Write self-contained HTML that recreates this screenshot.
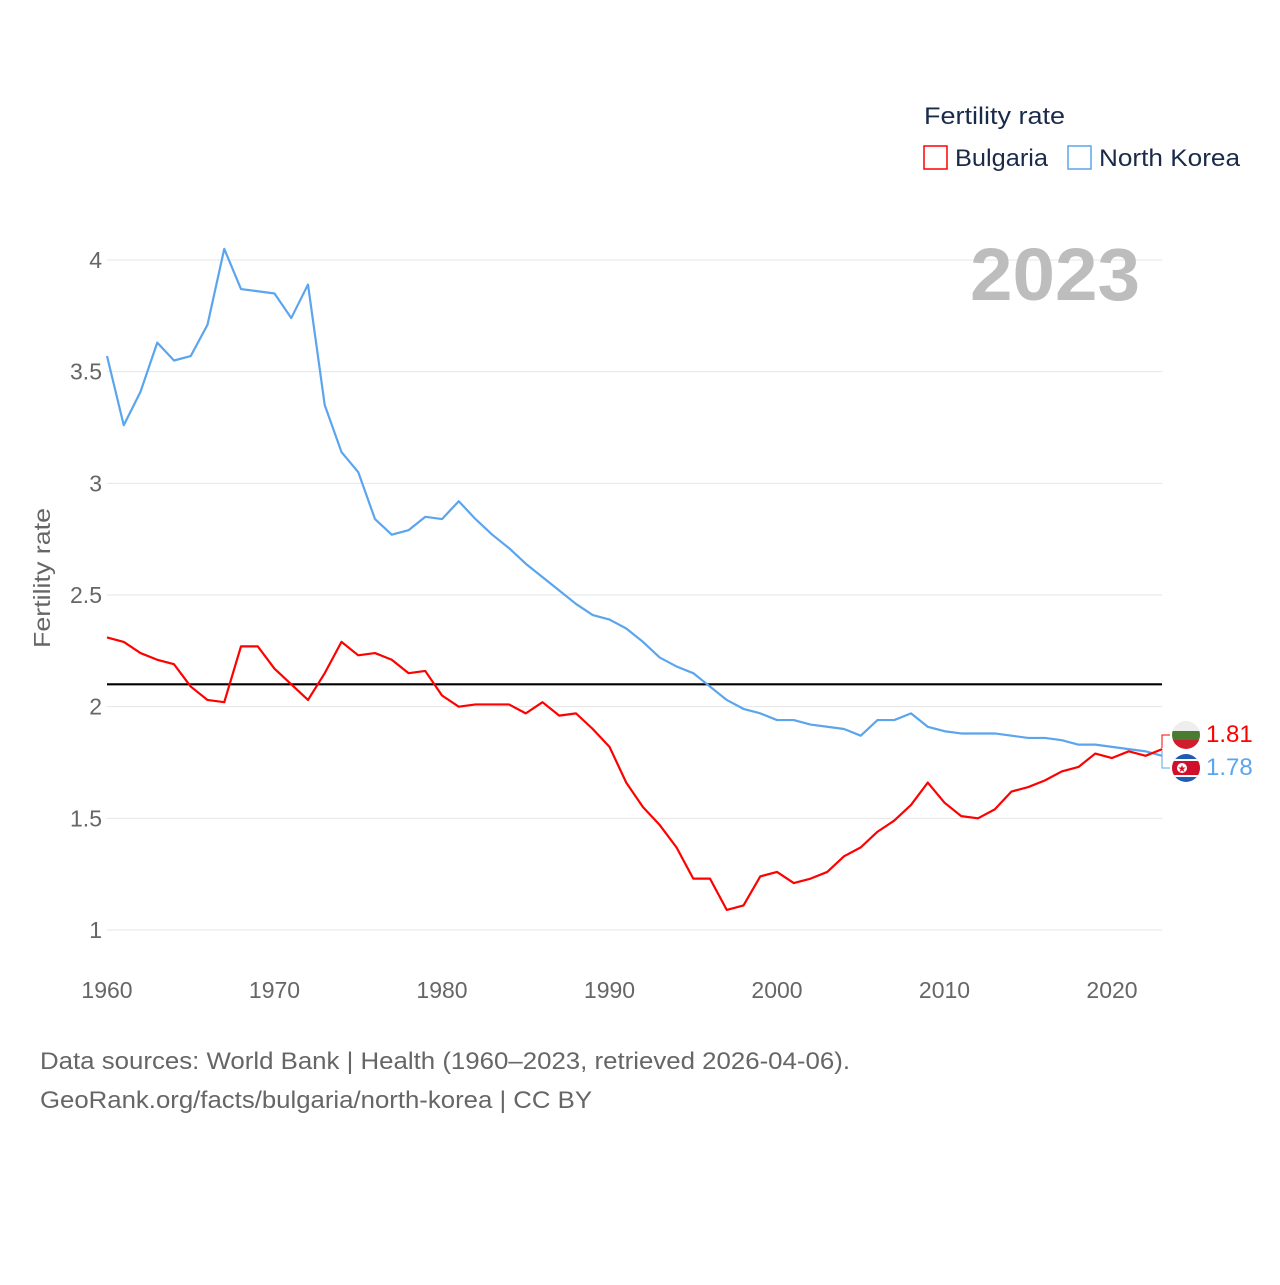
<!DOCTYPE html>
<html><head><meta charset="utf-8"><style>
body{margin:0;background:#fff;font-family:"Liberation Sans",sans-serif}
svg text{font-family:"Liberation Sans",sans-serif}
</style></head><body>
<svg id="chart" width="1280" height="1280" xmlns="http://www.w3.org/2000/svg">
<rect width="1280" height="1280" fill="#fff"/>
<g id="grid"></g>
<g id="lines"></g>
<text x="1140" y="300" text-anchor="end" font-size="74" font-weight="bold" fill="#bdbdbd" textLength="170" lengthAdjust="spacingAndGlyphs">2023</text>
<text transform="translate(50,578) rotate(-90)" text-anchor="middle" font-size="23" fill="#666" textLength="140" lengthAdjust="spacingAndGlyphs">Fertility rate</text>
<g>
<text x="924" y="124" font-size="24" fill="#1a2b4a" textLength="141" lengthAdjust="spacingAndGlyphs">Fertility rate</text>
<rect x="924" y="146" width="23" height="23" fill="none" stroke="#f00" stroke-width="1.5"/>
<text x="955" y="166" font-size="24" fill="#1a2b4a" textLength="93" lengthAdjust="spacingAndGlyphs">Bulgaria</text>
<rect x="1068" y="146" width="23" height="23" fill="none" stroke="#5aa5ee" stroke-width="1.5"/>
<text x="1099" y="166" font-size="24" fill="#1a2b4a" textLength="141" lengthAdjust="spacingAndGlyphs">North Korea</text>
</g>
<g>
<polyline points="1162,748 1162,735 1170,735" fill="none" stroke="#f00" stroke-width="1"/>
<polyline points="1162,751 1162,768 1170,768" fill="none" stroke="#5aa5ee" stroke-width="1"/>
<clipPath id="c1"><circle cx="1186" cy="735" r="14"/></clipPath>
<g clip-path="url(#c1)"><rect x="1172" y="721" width="28" height="10" fill="#eee"/><rect x="1172" y="731" width="28" height="9" fill="#4b7a31"/><rect x="1172" y="740" width="28" height="10" fill="#d01c2c"/></g>
<clipPath id="c2"><circle cx="1186" cy="768" r="14"/></clipPath>
<g clip-path="url(#c2)"><rect x="1172" y="754" width="28" height="28" fill="#1f5bb0"/><rect x="1172" y="759" width="28" height="18" fill="#fff"/><rect x="1172" y="761" width="28" height="14" fill="#d0102a"/><circle cx="1182" cy="768" r="5" fill="#fff"/><text x="1182" y="772" font-size="10" text-anchor="middle" fill="#d0102a">★</text></g>
<text x="1206" y="742" font-size="24" fill="#f00">1.81</text>
<text x="1206" y="775" font-size="24" fill="#5aa5ee">1.78</text>
</g>
<text x="40" y="1069" font-size="24" fill="#666" textLength="810" lengthAdjust="spacingAndGlyphs">Data sources: World Bank | Health (1960–2023, retrieved 2026-04-06).</text>
<text x="40" y="1108" font-size="24" fill="#666" textLength="552" lengthAdjust="spacingAndGlyphs">GeoRank.org/facts/bulgaria/north-korea | CC BY</text>
</svg>
<script>
const years=[];for(let y=1960;y<=2023;y++)years.push(y);
const bulgaria=[2.31,2.29,2.24,2.21,2.19,2.09,2.03,2.02,2.27,2.27,2.17,2.10,2.03,2.15,2.29,2.23,2.24,2.21,2.15,2.16,2.05,2.00,2.01,2.01,2.01,1.97,2.02,1.96,1.97,1.90,1.82,1.66,1.55,1.47,1.37,1.23,1.23,1.09,1.11,1.24,1.26,1.21,1.23,1.26,1.33,1.37,1.44,1.49,1.56,1.66,1.57,1.51,1.50,1.54,1.62,1.64,1.67,1.71,1.73,1.79,1.77,1.80,1.78,1.81];
const northKorea=[3.57,3.26,3.41,3.63,3.55,3.57,3.71,4.05,3.87,3.86,3.85,3.74,3.89,3.35,3.14,3.05,2.84,2.77,2.79,2.85,2.84,2.92,2.84,2.77,2.71,2.64,2.58,2.52,2.46,2.41,2.39,2.35,2.29,2.22,2.18,2.15,2.09,2.03,1.99,1.97,1.94,1.94,1.92,1.91,1.90,1.87,1.94,1.94,1.97,1.91,1.89,1.88,1.88,1.88,1.87,1.86,1.86,1.85,1.83,1.83,1.82,1.81,1.80,1.78];
const yTicks=[1,1.5,2,2.5,3,3.5,4];
const xTicks=[1960,1970,1980,1990,2000,2010,2020];
const replacement=2.1;
const X=y=>107+(y-1960)*(1112-107)/60;
const Y=v=>930-(v-1)*(930-260)/3;
const NS="http://www.w3.org/2000/svg";
const grid=document.getElementById('grid'),lines=document.getElementById('lines');
function mk(tag,attrs,parent){const e=document.createElementNS(NS,tag);for(const k in attrs)e.setAttribute(k,attrs[k]);parent.appendChild(e);return e;}
yTicks.forEach(t=>{
 const l=mk('line',{x1:107,x2:1162,y1:Y(t),y2:Y(t),stroke:'#e6e6e6','stroke-width':1},grid);
 
 
 const tx=mk('text',{x:102,y:Y(t)+8,'text-anchor':'end','font-size':23,fill:'#666'},grid);
 tx.textContent=String(t);
 
 
});
xTicks.forEach(t=>{
 const tx=mk('text',{x:X(t),y:998,'text-anchor':'middle','font-size':23,fill:'#666'},grid);
 tx.textContent=String(t);
 
 
});
const rl=mk('line',{x1:107,x2:1162,y1:Y(replacement),y2:Y(replacement),stroke:'#000','stroke-width':2.2},lines);


function series(vals,color,name){
 const p=mk('polyline',{points:vals.map((v,i)=>X(years[i])+','+Y(v)).join(' '),fill:'none',stroke:color,'stroke-width':2.2,'stroke-linejoin':'round'},lines);
 
 
}
series(northKorea,'#5aa5ee','north-korea-line');
series(bulgaria,'#f00','bulgaria-line');
</script>
</body></html>
